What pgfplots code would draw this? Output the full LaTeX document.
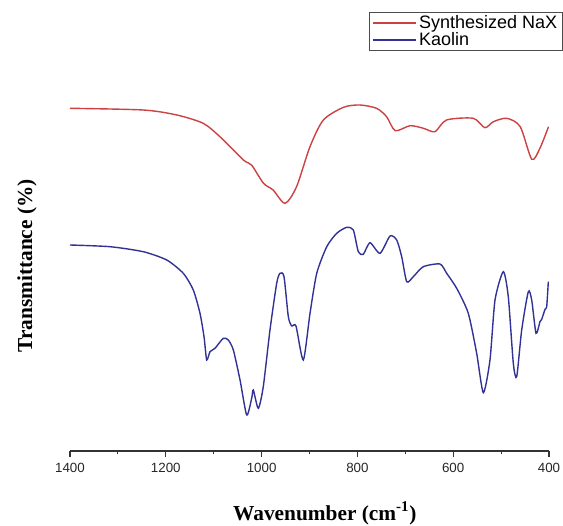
\documentclass[border=0pt]{standalone}
\usepackage{fontspec}
\setmainfont{Liberation Serif}
\newfontfamily\arial{Liberation Sans}
\usepackage{pgfplots}
\pgfplotsset{compat=1.18}
\definecolor{nxred}{RGB}{205,65,65}
\definecolor{kblue}{RGB}{50,50,150}
\begin{document}
\begin{tikzpicture}
\begin{axis}[
  scale only axis,
  width=359.25pt, height=334.5pt,
  xmin=400, xmax=1400, x dir=reverse,
  ymin=-451, ymax=-5,
  axis x line*=bottom, axis y line*=left,
  x axis line style={-, line width=0.8pt, black!80},
  y axis line style={draw=none},
  ytick=\empty,
  xtick={400,600,...,1400},
  minor xtick={500,700,...,1300},
  tick align=outside,
  major tick length=4.5pt, minor tick length=2.5pt,
  every tick/.style={black!80, line width=0.8pt},
  /pgf/number format/assume math mode=true,
  /pgf/number format/1000 sep={},
  xticklabel style={font=\arial\fontsize{10}{12}\selectfont, text=black!85, yshift=-1pt},
  xlabel={Wavenumber (cm\textsuperscript{-1})},
  ylabel={Transmittance (\%)},
  every axis x label/.style={at={(rel axis cs:0.532,0)}, anchor=base, yshift=-51.75pt, font=\bfseries\fontsize{16}{19}\selectfont},
  every axis y label/.style={at={(rel axis cs:-0.0898,0.415)}, anchor=center, rotate=90, font=\bfseries\fontsize{16}{19}\selectfont},
  legend style={at={(rel axis cs:1.0292,0.984)}, anchor=north east, draw=black!70, line width=0.6pt,
     font=\arial\fontsize{13.5}{13.5}\selectfont, inner xsep=2pt, inner ysep=0.5pt, row sep=-3pt,
     /tikz/every even column/.append style={column sep=0pt}},
  legend cell align=left,
  legend image code/.code={\draw[#1, line width=1.4pt] (0pt,0pt) -- (32pt,0pt);},
  clip=false,
]
\addplot[color=nxred, line width=1.05pt, smooth, tension=0.45] coordinates {
(1400,-108.3) (1247,-110) (1177,-115) (1122,-123.3) (1087,-136.7) (1038,-160) (1021,-165)
(996,-183.3) (976,-190) (951,-203.3) (927,-186.7) (899,-146.7) (871,-120) (829,-107.3)
(795,-105) (760,-108.3) (739,-116.7) (721,-130.7) (690,-125.7) (662,-128.3) (638,-131.7)
(614,-120) (558,-118.3) (534,-127.7) (516,-121.7) (488,-118.3) (460,-126.7) (436,-159.3)
(419,-148.3) (401,-126.7)
};
\addlegendentry{Synthesized NaX}
\addplot[color=kblue, line width=1.05pt, smooth, tension=0.4] coordinates {
(1400,-245) (1316.5,-246.7) (1247,-251.7) (1198,-260) (1163.5,-273.3) (1142.6,-290)
(1128.6,-313.3) (1120.2,-336.7) (1114.6,-360) (1107.7,-351.7) (1097.3,-348.3) (1080,-338.3)
(1069.5,-340) (1059,-350) (1045,-380) (1031.1,-415) (1020.7,-398.3) (1017.3,-390)
(1006.9,-408.3) (996.5,-386.7) (982.5,-330) (968.5,-283.3) (961.6,-273.3) (953.2,-276.7)
(944.2,-316.7) (937.1,-326) (928.2,-326) (912.9,-360) (898.9,-313.3) (884.9,-273.3)
(864,-246.7) (843.2,-233.3) (822.3,-227.3) (808.5,-230) (798.1,-251.7) (787.7,-254.3)
(773.7,-242.7) (752.8,-253.3) (731.9,-236) (717.9,-240) (707.5,-256.7) (697,-281.7)
(683.3,-276.7) (662.4,-266.7) (627.6,-264) (613.6,-273.3) (592.7,-288.3) (568.5,-313.3)
(551,-353.3) (537.1,-392.7) (523.2,-360) (512.7,-300) (495.4,-271.7) (485,-296.7)
(474.5,-363.3) (467.4,-376.7) (457,-330) (443.2,-291.7) (436.1,-300) (427.1,-333.3)
(418.8,-321.7) (415.2,-319.3) (408.3,-309.3) (404.8,-306.7) (401.4,-281.7)
};
\addlegendentry{Kaolin}
\coordinate (bl) at (rel axis cs:-0.14614,-0.16592);
\coordinate (tr) at (rel axis cs:1.02923,1.01121);
\end{axis}
\pgfresetboundingbox
\path[use as bounding box] (bl) rectangle (tr);
\end{tikzpicture}
\end{document}
